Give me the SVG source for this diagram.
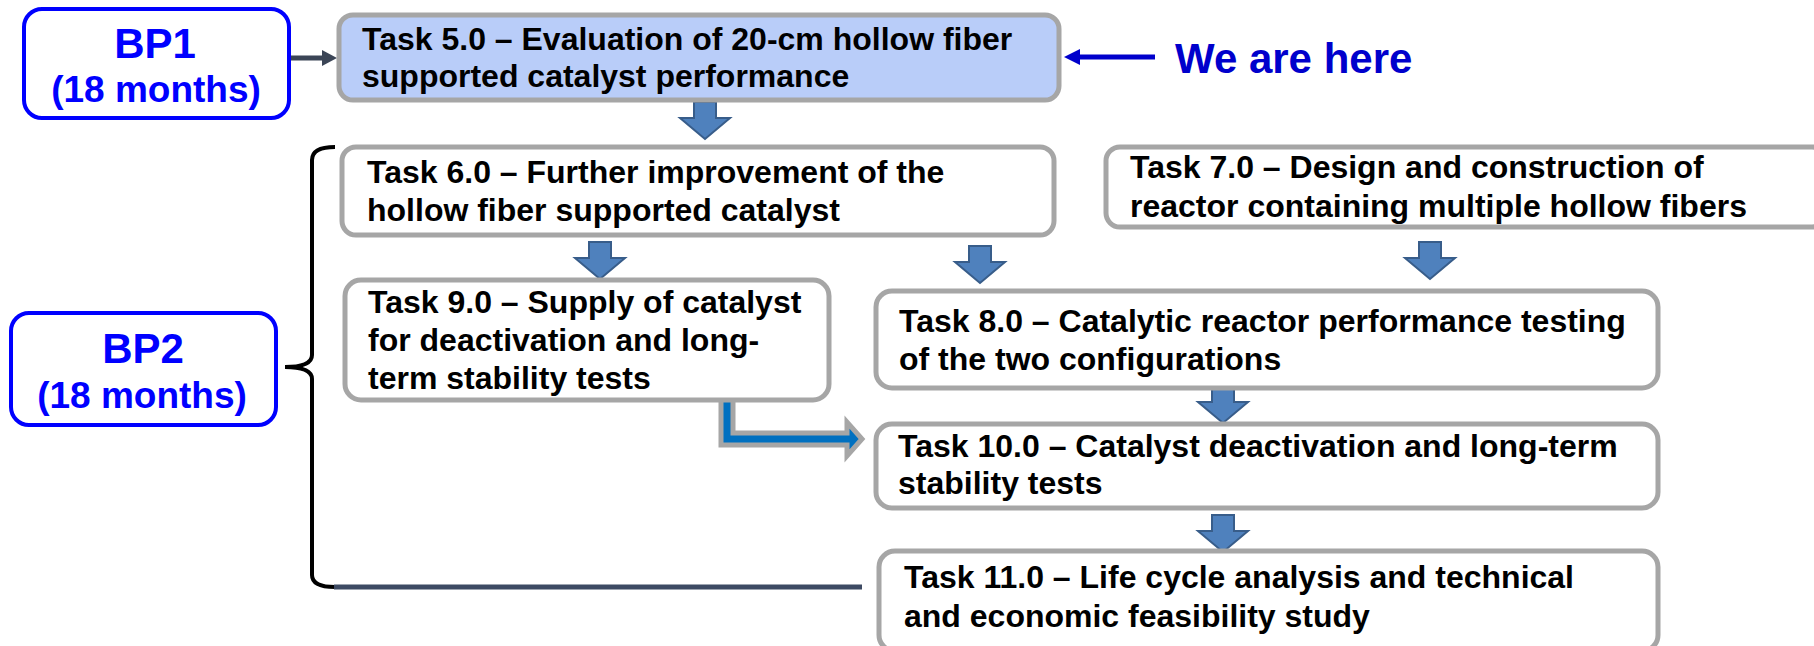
<svg xmlns="http://www.w3.org/2000/svg" xmlns:xlink="http://www.w3.org/1999/xlink" width="1814" height="646" viewBox="0 0 1814 646">
  <style>
    .bp { fill: #FFFFFF; stroke: #0000FF; stroke-width: 4; }
    .bpt { font-family: "Liberation Sans", Arial, sans-serif; font-weight: bold; fill: #0000FF; text-anchor: middle; }
    .task { fill: #FFFFFF; stroke: #A6A6A6; stroke-width: 5; }
    .task.cur { fill: #B9CDF9; }
    .tt { font-family: "Liberation Sans", Arial, sans-serif; font-weight: bold; font-size: 32px; fill: #000000; }
    .here { font-family: "Liberation Sans", Arial, sans-serif; font-weight: bold; font-size: 42px; fill: #0000CC; }
    .blk { fill: #4F81BD; stroke: #385D8A; stroke-width: 2; stroke-linejoin: miter; }
  </style>
  <defs>
    <!-- block down arrow, origin at top centre -->
    <path id="darrow" class="blk" d="M-11,0 H11 V16 H25 L0,37 L-25,16 H-11 Z"/>
  </defs>

  <!-- connectors -->
  <g id="connectors">
    <!-- BP1 to Task 5.0 -->
    <line x1="289" y1="58" x2="324" y2="58" stroke="#3B4556" stroke-width="5"/>
    <polygon points="322,50 337,58 322,66" fill="#3B4556"/>
    <!-- "We are here" pointer -->
    <line x1="1155" y1="57" x2="1076" y2="57" stroke="#0000CC" stroke-width="5"/>
    <polygon points="1080,49 1064,57 1080,65" fill="#0000CC"/>
    <!-- BP2 brace -->
    <path d="M335,147 Q312,147 312,160 L312,355 Q312,367 285,367 Q312,367 312,379 L312,575 Q312,587 335,587" fill="none" stroke="#000000" stroke-width="4"/>
    <line x1="334" y1="587" x2="862" y2="587" stroke="#3D4A63" stroke-width="5"/>
    <!-- block arrows -->
    <use xlink:href="#darrow" href="#darrow" transform="translate(705,102)"/>
    <use xlink:href="#darrow" href="#darrow" transform="translate(600,242)"/>
    <use xlink:href="#darrow" href="#darrow" transform="translate(980,246)"/>
    <use xlink:href="#darrow" href="#darrow" transform="translate(1430,242)"/>
    <use xlink:href="#darrow" href="#darrow" transform="translate(1223,386)"/>
    <use xlink:href="#darrow" href="#darrow" transform="translate(1223,515)"/>
    <!-- Task 9.0 to Task 10.0 bent arrow -->
    <polygon points="721,398 733,398 733,433 847,433 847,422 862,439 847,456 847,445 721,445" fill="#0070C0" stroke="#A6A6A6" stroke-width="5" stroke-linejoin="miter"/>
  </g>

  <g id="bp1">
    <rect class="bp" x="24" y="9" width="265" height="109" rx="18"/>
    <text class="bpt" x="155" y="58" font-size="42">BP1</text>
    <text class="bpt" x="156" y="102" font-size="37">(18 months)</text>
  </g>

  <g id="bp2">
    <rect class="bp" x="11" y="313" width="265" height="112" rx="18"/>
    <text class="bpt" x="143" y="363" font-size="42">BP2</text>
    <text class="bpt" x="142" y="408" font-size="37">(18 months)</text>
  </g>

  <g id="task5">
    <rect class="task cur" x="339" y="15" width="720" height="85" rx="14"/>
    <text class="tt" x="362" y="50">Task 5.0 – Evaluation of 20-cm hollow fiber</text>
    <text class="tt" x="362" y="87">supported catalyst performance</text>
  </g>

  <g id="here">
    <text class="here" x="1175" y="73">We are here</text>
  </g>

  <g id="task6">
    <rect class="task" x="342" y="147" width="712" height="88" rx="14"/>
    <text class="tt" x="367" y="183">Task 6.0 – Further improvement of the</text>
    <text class="tt" x="367" y="221">hollow fiber supported catalyst</text>
  </g>

  <g id="task7">
    <rect class="task" x="1106" y="147" width="720" height="80" rx="14"/>
    <text class="tt" x="1130" y="178">Task 7.0 – Design and construction of</text>
    <text class="tt" x="1130" y="217">reactor containing multiple hollow fibers</text>
  </g>

  <g id="task9">
    <rect class="task" x="345" y="280" width="484" height="120" rx="16"/>
    <text class="tt" x="368" y="313">Task 9.0 – Supply of catalyst</text>
    <text class="tt" x="368" y="351">for deactivation and long-</text>
    <text class="tt" x="368" y="389">term stability tests</text>
  </g>

  <g id="task8">
    <rect class="task" x="876" y="291" width="782" height="97" rx="16"/>
    <text class="tt" x="899" y="332">Task 8.0 – Catalytic reactor performance testing</text>
    <text class="tt" x="899" y="370">of the two configurations</text>
  </g>

  <g id="task10">
    <rect class="task" x="876" y="424" width="782" height="84" rx="16"/>
    <text class="tt" x="898" y="457">Task 10.0 – Catalyst deactivation and long-term</text>
    <text class="tt" x="898" y="494">stability tests</text>
  </g>

  <g id="task11">
    <rect class="task" x="879" y="551" width="779" height="100" rx="16"/>
    <text class="tt" x="904" y="588">Task 11.0 – Life cycle analysis and technical</text>
    <text class="tt" x="904" y="627">and economic feasibility study</text>
  </g>
</svg>
